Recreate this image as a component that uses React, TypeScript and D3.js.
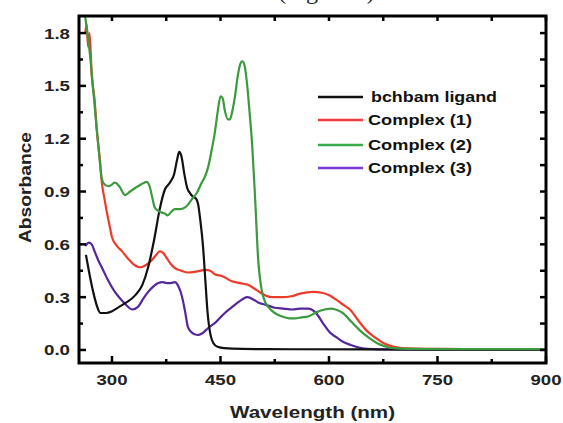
import React from "react";
import * as d3 from "d3";

// Wavelength (nm) / Absorbance readings
const ligandNm = [264, 268, 274, 280, 284, 292, 300, 310, 320, 332, 342, 350, 358, 366, 373, 380, 386, 390, 393, 396, 400, 404, 408, 412, 416, 419, 422, 426, 429, 432, 436, 440, 446, 455, 480, 550, 650, 750, 900];
const ligandAbs = [0.54, 0.45, 0.33, 0.24, 0.21, 0.21, 0.22, 0.245, 0.27, 0.31, 0.37, 0.47, 0.62, 0.8, 0.91, 0.95, 1.0, 1.08, 1.125, 1.1, 1.0, 0.92, 0.89, 0.87, 0.86, 0.83, 0.74, 0.58, 0.4, 0.22, 0.09, 0.04, 0.018, 0.01, 0.006, 0.004, 0.003, 0.002, 0.002];

const c1Nm = [263, 265, 267, 269, 272, 276, 279, 283, 286, 290, 293, 297, 300, 307, 314, 322, 332, 339, 346, 355, 361, 366, 371, 376, 381, 387, 396, 405, 416, 429, 436, 442, 452, 466, 477, 488, 500, 512, 523, 535, 548, 560, 578, 590, 601, 612, 622, 629, 640, 652, 664, 675, 686, 698, 720, 760, 800, 850, 900];
const c1Abs = [1.8, 1.85, 1.72, 1.8, 1.56, 1.42, 1.25, 1.09, 0.95, 0.85, 0.78, 0.7, 0.64, 0.59, 0.56, 0.52, 0.48, 0.47, 0.48, 0.51, 0.54, 0.56, 0.55, 0.52, 0.49, 0.465, 0.45, 0.44, 0.445, 0.455, 0.45, 0.43, 0.42, 0.39, 0.38, 0.37, 0.34, 0.31, 0.3, 0.3, 0.305, 0.32, 0.33, 0.325, 0.31, 0.28, 0.25, 0.23, 0.17, 0.11, 0.07, 0.04, 0.022, 0.012, 0.008, 0.006, 0.005, 0.005, 0.005];

const c2Nm = [262, 266, 270, 274, 279, 283, 286, 290, 296, 304, 310, 318, 325, 332, 340, 348, 352, 356, 359, 364, 369, 373, 377, 382, 387, 394, 401, 406, 411, 417, 424, 428, 433, 438, 442, 446, 450, 453, 456, 460, 463, 466, 470, 474, 477, 480, 483, 487, 490, 494, 498, 502, 507, 512, 516, 525, 535, 545, 553, 562, 571, 583, 594, 604, 612, 619, 631, 643, 655, 666, 678, 689, 710, 760, 800, 850, 900];
const c2Abs = [1.92, 1.8, 1.66, 1.48, 1.25, 1.08, 0.97, 0.94, 0.93, 0.95, 0.93, 0.88, 0.9, 0.92, 0.94, 0.955, 0.93, 0.86, 0.81, 0.79, 0.78, 0.775, 0.765, 0.785, 0.8, 0.8, 0.81, 0.83, 0.86, 0.89, 0.95, 0.98, 1.04, 1.14, 1.23, 1.35, 1.44, 1.43, 1.36, 1.31, 1.31, 1.35, 1.44, 1.56, 1.62, 1.64, 1.62, 1.5, 1.36, 1.15, 0.85, 0.52, 0.34, 0.27, 0.245, 0.21, 0.19, 0.18, 0.18, 0.185, 0.19, 0.215, 0.23, 0.235, 0.225, 0.21, 0.16, 0.11, 0.07, 0.04, 0.02, 0.01, 0.006, 0.005, 0.005, 0.005, 0.005];

const c3Nm = [263, 268, 272, 276, 281, 287, 294, 304, 314, 321, 328, 336, 343, 350, 357, 364, 370, 376, 381, 387, 392, 397, 401, 405, 410, 418, 425, 433, 444, 456, 465, 474, 481, 487, 494, 502, 514, 525, 537, 549, 560, 571, 581, 592, 601, 611, 620, 629, 640, 652, 670, 720, 800, 900];
const c3Abs = [0.59, 0.61, 0.6, 0.56, 0.51, 0.46, 0.4, 0.33, 0.28, 0.25, 0.23, 0.245, 0.29, 0.33, 0.36, 0.38, 0.385, 0.38, 0.38, 0.385, 0.36, 0.3, 0.22, 0.13, 0.1, 0.085, 0.095, 0.125, 0.16, 0.21, 0.24, 0.27, 0.29, 0.3, 0.29, 0.27, 0.255, 0.24, 0.235, 0.23, 0.235, 0.235, 0.215, 0.15, 0.1, 0.07, 0.045, 0.03, 0.015, 0.006, 0.003, 0.002, 0.002, 0.002];

const seriesNames = ["bchbam ligand", "Complex (1)", "Complex (2)", "Complex (3)"];
const seriesColors = ["#111111", "#ee3a2a", "#3a9a3e", "#55289a"];
const legendColors = ["#111111", "#ee3a3a", "#3aaa4a", "#7a3ae0"];

const xTicks = [300, 450, 600, 750, 900];
const xMinor = [375, 525, 675, 825];
const yTicks = [0, 0.3, 0.6, 0.9, 1.2, 1.5, 1.8];
const yMinor = [0.15, 0.45, 0.75, 1.05, 1.35, 1.65];

const L = 79, R = 546, T = 16, B = 363;

export default function App() {
  const x = d3.scaleLinear().domain([254.4, 900]).range([L, R]);
  const y = d3.scaleLinear().domain([-0.074, 1.897]).range([B, T]);
  const line = d3
    .line<[number, number]>()
    .x((d) => x(d[0]))
    .y((d) => y(d[1]))
    .curve(d3.curveMonotoneX);

  const all = [
    [ligandNm, ligandAbs],
    [c1Nm, c1Abs],
    [c2Nm, c2Abs],
    [c3Nm, c3Abs],
  ];
  const drawOrder = [3, 1, 0, 2];

  const font = "'Liberation Sans', Arial, sans-serif";
  const legendY = [97, 120, 145, 168];
  const legendW = [126, 104, 104, 104];

  return (
    <svg
      width={563}
      height={423}
      style={{ position: "absolute", left: 0, top: 0, background: "#fff" }}
      fontFamily={font}
    >
      <defs>
        <clipPath id="plotclip">
          <rect x={L} y={T} width={R - L} height={B - T} />
        </clipPath>
      </defs>
      <text x={278} y={-1} fontFamily="'Liberation Serif', serif" fontSize={24} fill="#222">
        (Figure 3)
      </text>
      <g clipPath="url(#plotclip)">
        {drawOrder.map((i) => {
          const [nm, ab] = all[i];
          const pts = nm.map((v, k) => [v, ab[k]] as [number, number]);
          return (
            <path
              key={i}
              d={line(pts) || ""}
              fill="none"
              stroke={seriesColors[i]}
              strokeWidth={2.2}
              strokeLinejoin="round"
            />
          );
        })}
      </g>
      {xTicks.concat(xMinor).map((t) => {
        const major = xTicks.includes(t);
        return (
          <g key={"xt" + t}>
            <line x1={x(t)} x2={x(t)} y1={B} y2={B - (major ? 7 : 4)} stroke="#000" strokeWidth={2.5} />
            <line x1={x(t)} x2={x(t)} y1={T} y2={T + 5} stroke="#000" strokeWidth={2.5} />
          </g>
        );
      })}
      {yTicks.concat(yMinor).map((t) => {
        const major = yTicks.includes(t);
        return (
          <g key={"yt" + t}>
            <line x1={L} x2={L + (major ? 7 : 4)} y1={y(t)} y2={y(t)} stroke="#000" strokeWidth={2.5} />
            <line x1={R} x2={R - 6} y1={y(t)} y2={y(t)} stroke="#000" strokeWidth={2.5} />
          </g>
        );
      })}
      <rect x={L} y={T} width={R - L} height={B - T} fill="none" stroke="#000" strokeWidth={3} />
      {xTicks.map((t) => (
        <text
          key={"xl" + t}
          x={x(t) - 15.5}
          y={385}
          fontSize={15}
          fontWeight="bold"
          fill="#222"
          textLength={31}
          lengthAdjust="spacingAndGlyphs"
        >
          {t}
        </text>
      ))}
      {yTicks.map((t) => (
        <text
          key={"yl" + t}
          x={44}
          y={y(t) + 5.5}
          fontSize={15}
          fontWeight="bold"
          fill="#222"
          textLength={26}
          lengthAdjust="spacingAndGlyphs"
        >
          {t.toFixed(1)}
        </text>
      ))}
      <text
        x={230}
        y={418}
        fontSize={17}
        fontWeight="bold"
        fill="#222"
        textLength={165}
        lengthAdjust="spacingAndGlyphs"
      >
        Wavelength (nm)
      </text>
      <text
        transform={`translate(31,243) rotate(-90)`}
        fontSize={17}
        fontWeight="bold"
        fill="#222"
        textLength={111}
        lengthAdjust="spacingAndGlyphs"
      >
        Absorbance
      </text>
      {seriesNames.map((n, i) => (
        <g key={n}>
          <line x1={318} x2={363} y1={legendY[i]} y2={legendY[i]} stroke={legendColors[i]} strokeWidth={2.5} />
          <text
            x={i === 0 ? 371 : 368}
            y={legendY[i] + 5}
            fontSize={14}
            fontWeight="bold"
            fill="#111"
            textLength={legendW[i]}
            lengthAdjust="spacingAndGlyphs"
          >
            {n}
          </text>
        </g>
      ))}
    </svg>
  );
}
